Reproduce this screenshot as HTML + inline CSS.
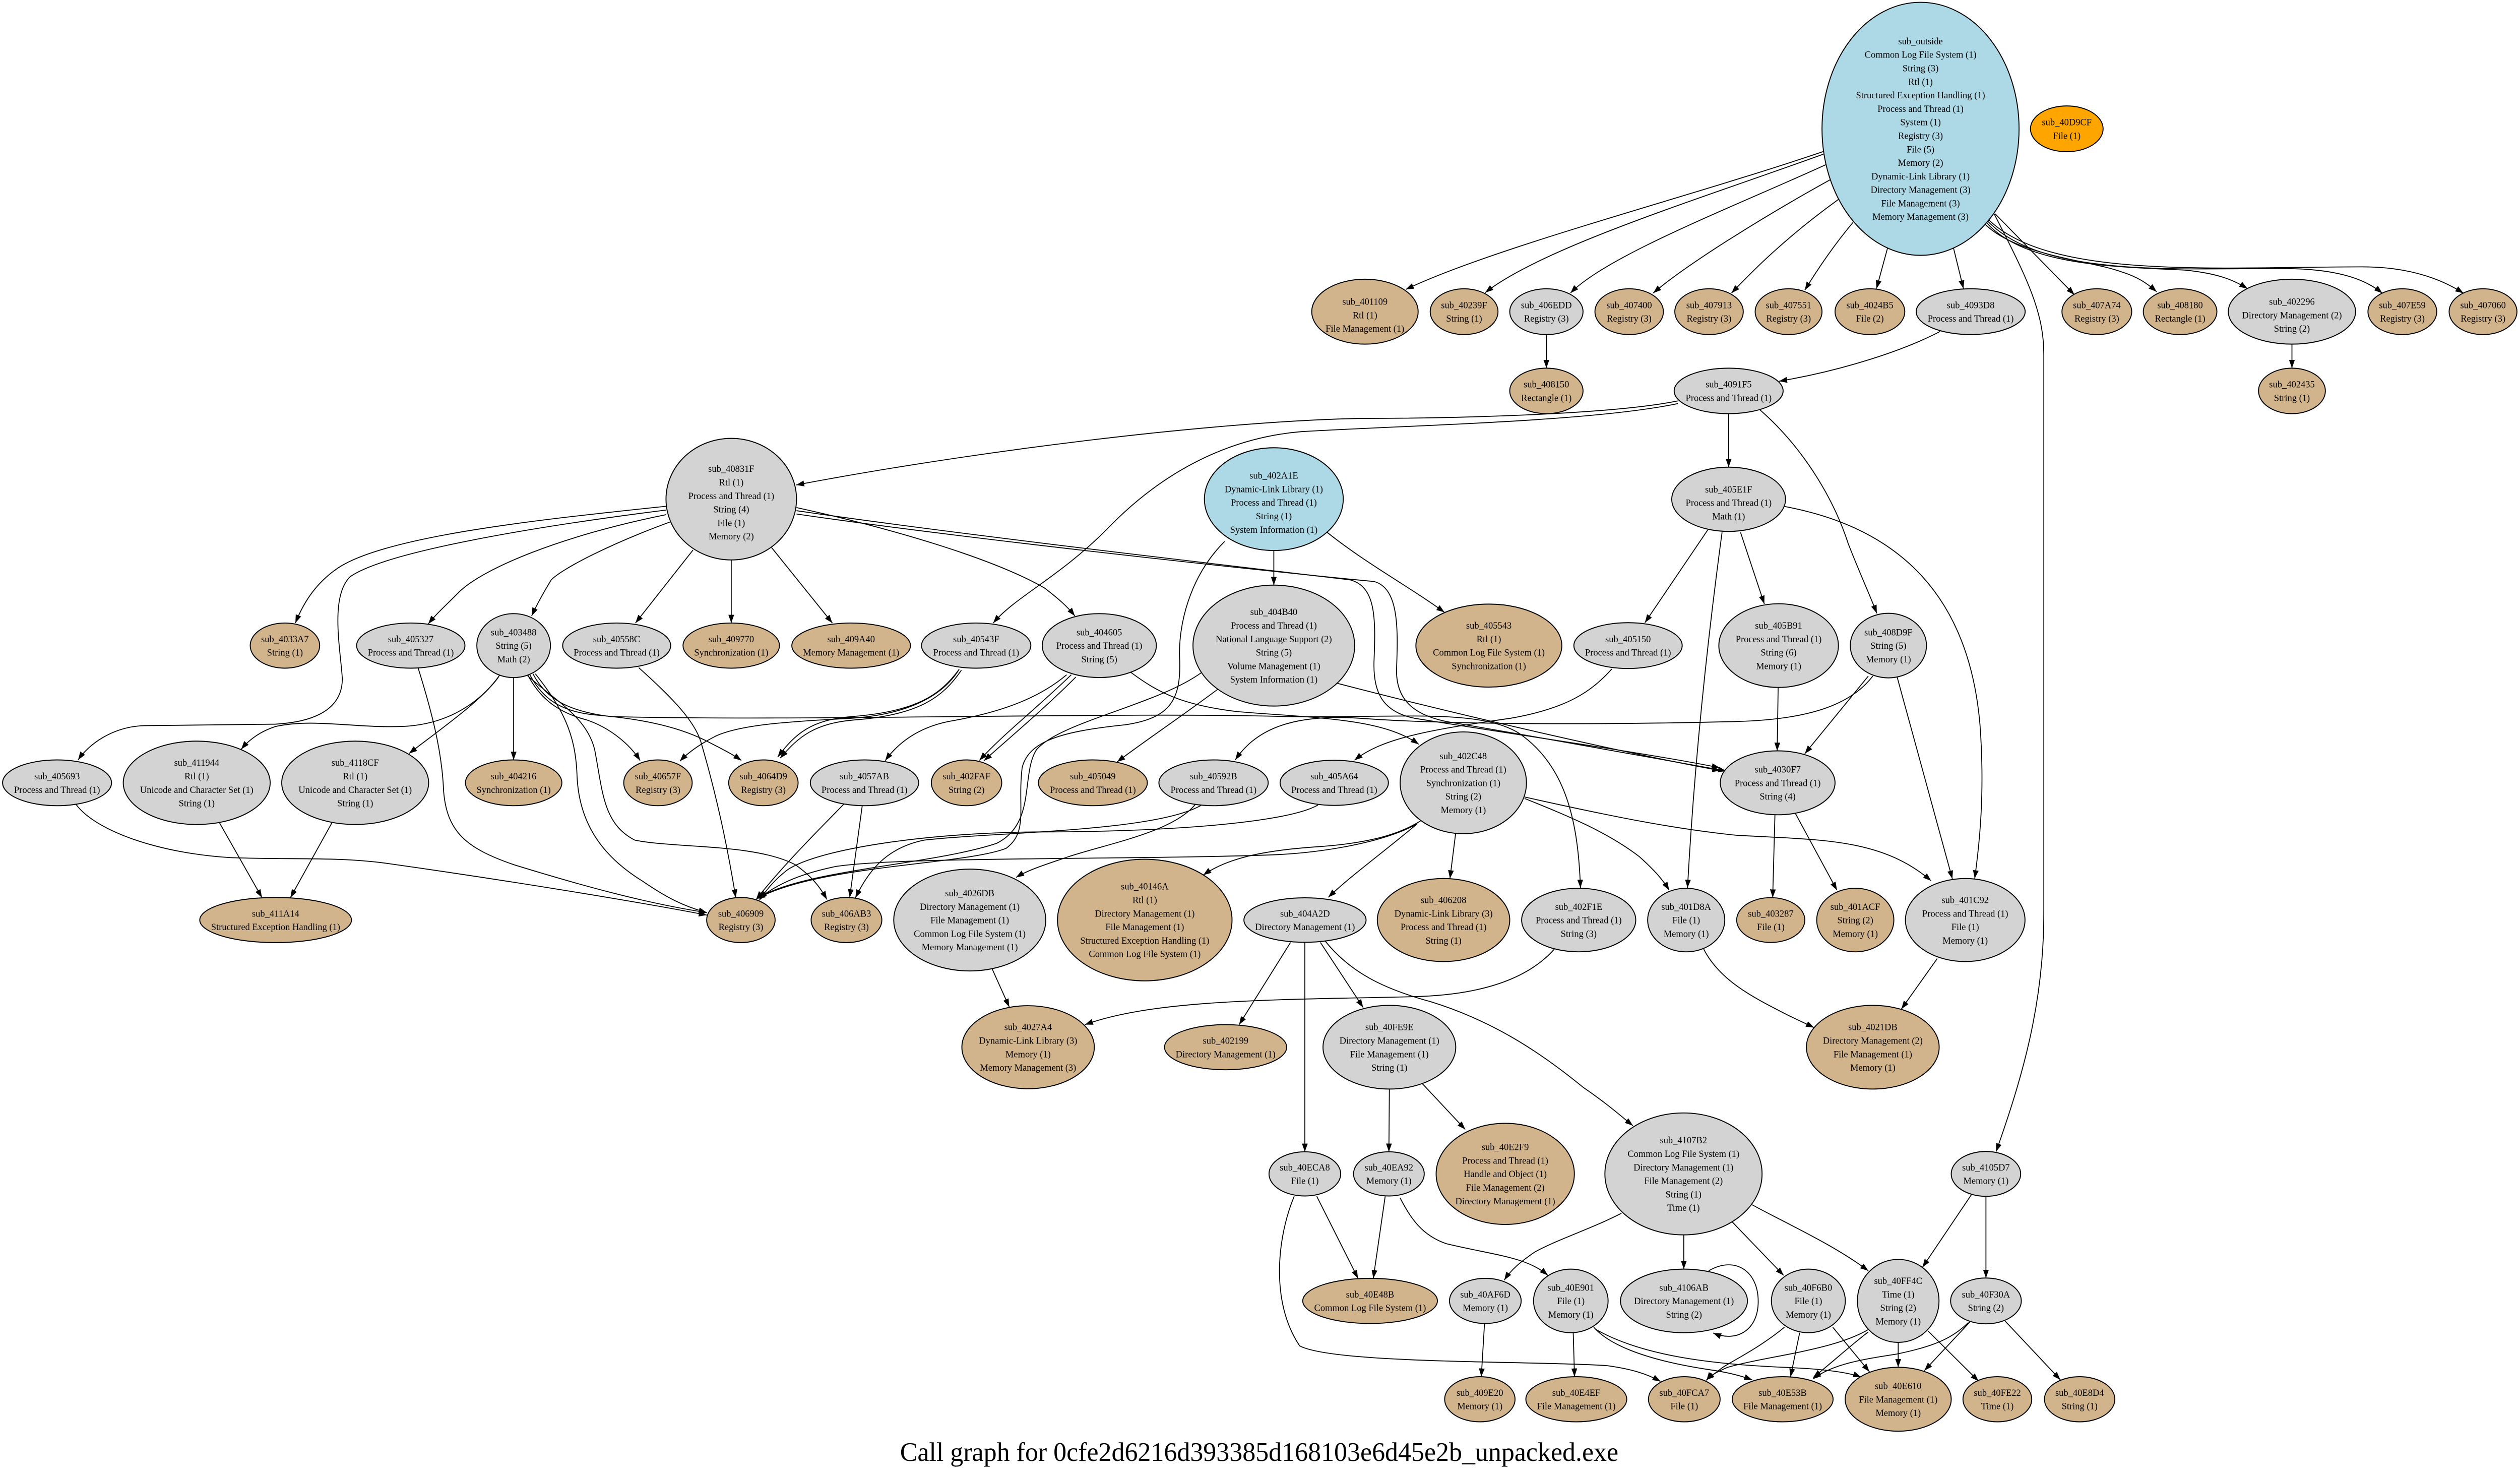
<!DOCTYPE html>
<html><head><meta charset="utf-8"><style>
html,body{margin:0;padding:0;background:#fff;overflow:hidden;width:100%;height:100%;}
svg{display:block;position:fixed;left:0;top:0;width:100vw;height:100vh;}
text{font-family:"Liberation Serif","DejaVu Serif",serif;font-size:5.8px;text-anchor:middle;fill:#000;}
.e path{fill:none;stroke:#000;stroke-width:0.55;}
ellipse{stroke:#000;stroke-width:0.6;}
.g{fill:#d3d3d3}.t{fill:#d2b48c}.b{fill:#add8e6}.o{fill:#ffa500}
</style></head><body>
<svg width="5124" height="2930" viewBox="0 0 1568 896.6" preserveAspectRatio="none" xmlns="http://www.w3.org/2000/svg">
<defs><marker id="a" markerUnits="userSpaceOnUse" markerWidth="6" markerHeight="4" refX="5" refY="1.8" orient="auto"><path d="M0,0 L5,1.8 L0,3.6 z" fill="#000"/></marker></defs>
<rect width="1568" height="896.6" fill="#fff"/>
<g class="e">
<path d="M1134.5,92 C1050,120 930,150 874.7,175.7" marker-end="url(#a)"/>
<path d="M1134.5,93.6 C1060,120 960,150 924.2,177.6" marker-end="url(#a)"/>
<path d="M1136,100 C1080,125 1000,155 977.2,177.9" marker-end="url(#a)"/>
<path d="M1139,109 C1100,130 1050,160 1028.7,177.9" marker-end="url(#a)"/>
<path d="M1144,121 C1110,145 1090,165 1077.4,177.9" marker-end="url(#a)"/>
<path d="M1153,135 C1140,150 1130,165 1123,176.1" marker-end="url(#a)"/>
<path d="M1174.5,150.5 L1167.6,175.2" marker-end="url(#a)"/>
<path d="M1215.5,150.5 L1221.7,175.2" marker-end="url(#a)"/>
<path d="M1241.4,129.8 L1290.7,178.9" marker-end="url(#a)"/>
<path d="M1235.4,136.3 C1255,155 1300,158 1320,165 C1330,168 1336,172 1341.9,177.1" marker-end="url(#a)"/>
<path d="M1236,135 C1260,162 1320,162 1360,164 C1380,166 1390,170 1398.4,175.2" marker-end="url(#a)"/>
<path d="M1236.5,134 C1270,168 1350,163 1420,163 C1450,163 1470,168 1482.3,178" marker-end="url(#a)"/>
<path d="M1237,133 C1275,170 1380,162 1470,162 C1500,162 1520,170 1532.8,178" marker-end="url(#a)"/>
<path d="M1240.8,129.8 C1262,170 1271.7,190 1271.7,215 L1271.7,555 C1271.7,610 1258,655 1242,699.1" marker-end="url(#a)"/>
<path d="M962.2,203.1 L962.2,223.5" marker-end="url(#a)"/>
<path d="M1426.1,208.9 L1426.1,223.5" marker-end="url(#a)"/>
<path d="M1207.2,201.2 C1180,215 1140,226 1107,231.4" marker-end="url(#a)"/>
<path d="M1075.6,251.1 L1075.6,283.6" marker-end="url(#a)"/>
<path d="M1095.2,248.9 C1120,270 1140,300 1150,330 C1158,350 1163,360 1167.8,372.3" marker-end="url(#a)"/>
<path d="M1043.9,243.4 C1000,252 900,254 846,254 C750,256 600,275 495.4,294.4" marker-end="url(#a)"/>
<path d="M1044,245 C990,256 880,258 810,262 C760,266 720,290 690,320 C660,350 632,362 618,378.2" marker-end="url(#a)"/>
<path d="M1062.6,321.7 L1023.5,378" marker-end="url(#a)"/>
<path d="M1071.5,323.2 C1065,370 1055,450 1050,539" marker-end="url(#a)"/>
<path d="M1083,323.2 L1097.8,366.6" marker-end="url(#a)"/>
<path d="M1110.1,307.4 C1180,320 1225,360 1232,440 C1235,480 1232,510 1228.7,533.3" marker-end="url(#a)"/>
<path d="M792.6,334.2 L792.6,355.2" marker-end="url(#a)"/>
<path d="M825.7,323.1 C850,342 875,355 898.8,371.7" marker-end="url(#a)"/>
<path d="M762,328.7 C740,350 733,380 734,400 C735,425 728,436 700,440 C660,444 640,450 636,466 C633,490 640,505 626,515 C600,525 510,525 471,545.5" marker-end="url(#a)"/>
<path d="M414.6,307.3 C340,315 240,325 210,345 C195,355 188,368 183.8,378.2" marker-end="url(#a)"/>
<path d="M414.6,309.6 C330,320 240,335 218,350 C205,362 212,395 213,412 C213,428 200,438 171.5,439.6 L90,440.5 C70,441 55,452 48.6,461.3" marker-end="url(#a)"/>
<path d="M414.6,312.4 C350,325 300,345 285,360 C278,367 272,372 266.5,378.7" marker-end="url(#a)"/>
<path d="M417.4,316.7 C380,330 350,345 343,352 C338,360 334,367 330.8,373.9" marker-end="url(#a)"/>
<path d="M431.2,333.9 L395.4,378.2" marker-end="url(#a)"/>
<path d="M455,339.9 L455,378.2" marker-end="url(#a)"/>
<path d="M480.1,332.4 L517.9,378.2" marker-end="url(#a)"/>
<path d="M495.6,308.1 C560,322 620,340 650,357 C658,363 664,368 668.8,373.9" marker-end="url(#a)"/>
<path d="M495.6,310 C600,325 780,345 840,352 C856,356 856,375 855,400 C854,420 860,432 880,436 C950,447 1030,458 1070.1,466.1" marker-end="url(#a)"/>
<path d="M495.6,312 C600,327 790,347 855,353 C870,357 870,380 869,405 C868,425 880,434 900,438 C960,448 1030,460 1074,468" marker-end="url(#a)"/>
<path d="M319.6,411.3 L319.6,461.3" marker-end="url(#a)"/>
<path d="M311.1,409.6 C300,425 280,440 250,441 C220,442 195,436 171.5,441 C162,444 155,449 150.1,454.8" marker-end="url(#a)"/>
<path d="M310.2,411 C300,425 275,442 254.5,457.4" marker-end="url(#a)"/>
<path d="M328.3,409.6 C335,422 345,432 365,437 C380,442 392,452 398.3,461.7" marker-end="url(#a)"/>
<path d="M329.7,409.6 C338,425 350,432 370,434 C395,436 420,440 440,450 C450,455 456,458 461.3,461.6" marker-end="url(#a)"/>
<path d="M333.1,409 C350,430 358,445 359,470 C360,500 375,520 400,535 C415,545 425,550 439.8,554" marker-end="url(#a)"/>
<path d="M328.3,410.2 C345,425 365,435 370,455 C375,480 375,500 395,510 C420,515 470,512 495,525 C505,532 510,538 514.5,546" marker-end="url(#a)"/>
<path d="M331.6,409 C340,425 355,432 380,435 C500,438 700,432 800,435 C870,436 920,430 945,445 C975,465 982,500 983.4,539" marker-end="url(#a)"/>
<path d="M397.4,405.3 C420,425 432,438 436,450 C445,480 452,510 457.8,544.9" marker-end="url(#a)"/>
<path d="M260.2,405.6 C268,430 275,455 276,480 C278,505 290,515 320,525 C360,537 400,548 439.8,554" marker-end="url(#a)"/>
<path d="M47.2,488.2 C60,505 100,518 143,520.6 C180,522 210,520 240,524 C320,535 400,548 439.8,555.5" marker-end="url(#a)"/>
<path d="M136.7,499.7 L163,544.9" marker-end="url(#a)"/>
<path d="M206.4,499.7 L180.7,544.9" marker-end="url(#a)"/>
<path d="M525,488.2 C505,508 485,528 470.5,546" marker-end="url(#a)"/>
<path d="M536.5,489.1 L528.7,544.8" marker-end="url(#a)"/>
<path d="M596.8,406.3 C585,422 570,432 530,435 C505,437 495,445 483.9,459.6" marker-end="url(#a)"/>
<path d="M598.2,406.8 C587,423 572,434 532,437 C507,439 497,447 485.5,460.2" marker-end="url(#a)"/>
<path d="M596.8,406.3 C585,425 560,434 530,436 C490,438 460,440 445,447 C435,452 428,457 423,462.1" marker-end="url(#a)"/>
<path d="M666.6,409.6 C645,430 625,445 609.4,461.6" marker-end="url(#a)"/>
<path d="M669.4,411 C650,430 628,448 612.2,461.8" marker-end="url(#a)"/>
<path d="M663.7,409.6 C645,425 620,433 590,438 C570,442 558,452 550.8,461.7" marker-end="url(#a)"/>
<path d="M703.7,408.2 C720,420 735,428 770,432 C820,436 860,436 882.8,451.8" marker-end="url(#a)"/>
<path d="M758,418.2 C735,435 712,450 695.1,462.5" marker-end="url(#a)"/>
<path d="M831.3,414.6 C900,432 1000,455 1070.4,467.8" marker-end="url(#a)"/>
<path d="M748,408 C720,428 660,438 645,455 C635,470 645,500 620,512 C580,525 500,528 472,545" marker-end="url(#a)"/>
<path d="M1002.9,406.1 C990,420 975,430 940,436 C890,443 860,448 842.8,461.5" marker-end="url(#a)"/>
<path d="M1162.5,410.4 L1123,457.5" marker-end="url(#a)"/>
<path d="M1180.5,411.2 L1214.8,533.5" marker-end="url(#a)"/>
<path d="M1165.3,410.4 C1150,430 1120,437 1080,438 C1000,440 900,440 846,436 C800,433 780,445 768.6,461.3" marker-end="url(#a)"/>
<path d="M1106.4,417.3 L1105.8,455.8" marker-end="url(#a)"/>
<path d="M881.4,500.4 C860,518 840,532 826.5,544.7" marker-end="url(#a)"/>
<path d="M905.7,506.1 L902.2,533.3" marker-end="url(#a)"/>
<path d="M948.6,484.7 C975,495 1000,505 1020,520 C1028,527 1034,533 1038.6,540.4" marker-end="url(#a)"/>
<path d="M948.6,483.8 C1000,495 1040,503 1080,507 C1130,510 1170,508 1201.6,534.7" marker-end="url(#a)"/>
<path d="M884.2,498.1 C870,507 850,512 820,514 C790,516 765,520 748.7,531.2" marker-end="url(#a)"/>
<path d="M882,500 C860,512 820,518 790,519 C700,522 560,520 520,526 C495,531 482,538 472,545.5" marker-end="url(#a)"/>
<path d="M1104.4,494.7 L1103,544.9" marker-end="url(#a)"/>
<path d="M1117.2,493.9 L1143,540.4" marker-end="url(#a)"/>
<path d="M743.8,488.2 C730,505 690,512 665,520 C650,525 640,528 632.2,532.6" marker-end="url(#a)"/>
<path d="M748,488.5 C720,505 620,505 575,510 C550,515 540,530 532.2,545" marker-end="url(#a)"/>
<path d="M820,488.7 C800,500 720,505 650,505 C580,505 510,515 490,528 C482,534 477,540 472.5,546.5" marker-end="url(#a)"/>
<path d="M1060.1,576.2 C1070,595 1090,605 1110,615 C1118,619 1123,621 1128.7,623.8" marker-end="url(#a)"/>
<path d="M1205.4,581.9 L1183.1,612.5" marker-end="url(#a)"/>
<path d="M967.1,576.2 C950,595 920,604 880,605 C800,607 720,606 675.1,622" marker-end="url(#a)"/>
<path d="M617.4,588.3 L628,611.3" marker-end="url(#a)"/>
<path d="M803,572.1 L771,622" marker-end="url(#a)"/>
<path d="M811.9,572 L811.9,699.2" marker-end="url(#a)"/>
<path d="M821.6,572.1 L848.2,611.6" marker-end="url(#a)"/>
<path d="M824.5,571.2 C840,590 860,600 890,608 C930,620 960,640 985,660 C1000,670 1008,677 1016,683.3" marker-end="url(#a)"/>
<path d="M864.5,661.1 L864.2,699.2" marker-end="url(#a)"/>
<path d="M885.1,657.9 L911.7,685.6" marker-end="url(#a)"/>
<path d="M819.3,726.2 L845,776" marker-end="url(#a)"/>
<path d="M805.3,726.2 C795,750 790,790 808.7,817 C830,828 950,826 1000,829 C1015,831 1025,834 1033.2,838.6" marker-end="url(#a)"/>
<path d="M861.9,726.2 L854.5,776" marker-end="url(#a)"/>
<path d="M871.1,727.1 C878,740 885,750 900,755 C930,762 950,763 963.1,774.2" marker-end="url(#a)"/>
<path d="M1008.9,736.5 C990,746 970,752 955,760 C946,766 940,771 936,777.1" marker-end="url(#a)"/>
<path d="M1047.7,749.6 L1047.7,770.4" marker-end="url(#a)"/>
<path d="M1077.5,741.4 L1109.8,774.2" marker-end="url(#a)"/>
<path d="M1090.3,731.4 C1110,742 1140,755 1162.5,771.4" marker-end="url(#a)"/>
<path d="M1063.2,771.4 C1080,762 1094,772 1094,790 C1094,808 1080,815 1066,809.2" marker-end="url(#a)"/>
<path d="M923.7,803.4 L921.7,835.7" marker-end="url(#a)"/>
<path d="M978.9,809 L979.7,835.7" marker-end="url(#a)"/>
<path d="M991.7,805.7 C1000,815 1020,825 1063.2,831.4 C1075,833 1083,835 1090.3,837.7" marker-end="url(#a)"/>
<path d="M993.1,807.1 C1020,822 1060,828 1110,830 C1135,831 1150,833 1158,836" marker-end="url(#a)"/>
<path d="M1110.3,805.7 C1095,818 1080,825 1072,830 C1068,833 1065,835 1061.8,837.7" marker-end="url(#a)"/>
<path d="M1119.8,809 L1114.1,835.8" marker-end="url(#a)"/>
<path d="M1140.4,805.7 L1163.2,832.7" marker-end="url(#a)"/>
<path d="M1181.1,814.9 L1181.1,830" marker-end="url(#a)"/>
<path d="M1199.7,808 L1231.1,838.4" marker-end="url(#a)"/>
<path d="M1162.5,807.1 C1140,820 1100,823 1075,830 C1068,833 1064,835 1061.8,838" marker-end="url(#a)"/>
<path d="M1162.5,808.5 C1150,818 1140,827 1128.2,836.2" marker-end="url(#a)"/>
<path d="M1247.7,802 L1282,837.6" marker-end="url(#a)"/>
<path d="M1226,802.2 L1197.4,832" marker-end="url(#a)"/>
<path d="M1224.8,802.8 C1215,812 1205,817 1180,822 C1160,825 1140,828 1128.2,837.1" marker-end="url(#a)"/>
<path d="M1226.8,725 L1196.2,769.3" marker-end="url(#a)"/>
<path d="M1235.7,726.2 L1235.7,775.8" marker-end="url(#a)"/>
</g>

<ellipse class="b" cx="1195" cy="78.2" rx="61.3" ry="76.8"/>
<text x="1195" y="26.9">sub_outside<tspan x="1195" dy="8.2">Common Log File System (1)</tspan><tspan x="1195" dy="8.2">String (3)</tspan><tspan x="1195" dy="8.2">Rtl (1)</tspan><tspan x="1195" dy="8.2">Structured Exception Handling (1)</tspan><tspan x="1195" dy="8.2">Process and Thread (1)</tspan><tspan x="1195" dy="8.2">System (1)</tspan><tspan x="1195" dy="8.2">Registry (3)</tspan><tspan x="1195" dy="8.2">File (5)</tspan><tspan x="1195" dy="8.2">Memory (2)</tspan><tspan x="1195" dy="8.2">Dynamic-Link Library (1)</tspan><tspan x="1195" dy="8.2">Directory Management (3)</tspan><tspan x="1195" dy="8.2">File Management (3)</tspan><tspan x="1195" dy="8.2">Memory Management (3)</tspan></text>

<ellipse class="o" cx="1286" cy="78.2" rx="22.6" ry="13.9"/>
<text x="1286" y="76.1">sub_40D9CF<tspan x="1286" dy="8.2">File (1)</tspan></text>

<ellipse class="t" cx="849.3" cy="189.2" rx="33.1" ry="19.7"/>
<text x="849.3" y="185">sub_401109<tspan x="849.3" dy="8.2">Rtl (1)</tspan><tspan x="849.3" dy="8.2">File Management (1)</tspan></text>
<ellipse class="t" cx="911" cy="189.2" rx="21.1" ry="13.9"/>
<text x="911" y="187.1">sub_40239F<tspan x="911" dy="8.2">String (1)</tspan></text>
<ellipse class="g" cx="962.2" cy="189.2" rx="22.8" ry="13.9"/>
<text x="962.2" y="187.1">sub_406EDD<tspan x="962.2" dy="8.2">Registry (3)</tspan></text>
<ellipse class="t" cx="1013.7" cy="189.2" rx="21.3" ry="13.9"/>
<text x="1013.7" y="187.1">sub_407400<tspan x="1013.7" dy="8.2">Registry (3)</tspan></text>
<ellipse class="t" cx="1063.4" cy="189.2" rx="21.3" ry="13.9"/>
<text x="1063.4" y="187.1">sub_407913<tspan x="1063.4" dy="8.2">Registry (3)</tspan></text>
<ellipse class="t" cx="1112.9" cy="189.2" rx="20.8" ry="13.9"/>
<text x="1112.9" y="187.1">sub_407551<tspan x="1112.9" dy="8.2">Registry (3)</tspan></text>
<ellipse class="t" cx="1163.5" cy="189.2" rx="21.7" ry="13.9"/>
<text x="1163.5" y="187.1">sub_4024B5<tspan x="1163.5" dy="8.2">File (2)</tspan></text>
<ellipse class="g" cx="1226.2" cy="189.2" rx="33.9" ry="13.9"/>
<text x="1226.2" y="187.1">sub_4093D8<tspan x="1226.2" dy="8.2">Process and Thread (1)</tspan></text>
<ellipse class="t" cx="1304.7" cy="189.2" rx="21.7" ry="13.9"/>
<text x="1304.7" y="187.1">sub_407A74<tspan x="1304.7" dy="8.2">Registry (3)</tspan></text>
<ellipse class="t" cx="1356.5" cy="189.2" rx="22.9" ry="13.9"/>
<text x="1356.5" y="187.1">sub_408180<tspan x="1356.5" dy="8.2">Rectangle (1)</tspan></text>
<ellipse class="g" cx="1426.1" cy="189.2" rx="39.6" ry="19.7"/>
<text x="1426.1" y="185">sub_402296<tspan x="1426.1" dy="8.2">Directory Management (2)</tspan><tspan x="1426.1" dy="8.2">String (2)</tspan></text>
<ellipse class="t" cx="1494.8" cy="189.2" rx="21.4" ry="13.9"/>
<text x="1494.8" y="187.1">sub_407E59<tspan x="1494.8" dy="8.2">Registry (3)</tspan></text>
<ellipse class="t" cx="1545" cy="189.2" rx="21.1" ry="13.9"/>
<text x="1545" y="187.1">sub_407060<tspan x="1545" dy="8.2">Registry (3)</tspan></text>

<ellipse class="t" cx="962.2" cy="237.3" rx="22.8" ry="13.8"/>
<text x="962.2" y="235.2">sub_408150<tspan x="962.2" dy="8.2">Rectangle (1)</tspan></text>
<ellipse class="g" cx="1075.6" cy="237.3" rx="33.9" ry="13.8"/>
<text x="1075.6" y="235.2">sub_4091F5<tspan x="1075.6" dy="8.2">Process and Thread (1)</tspan></text>
<ellipse class="t" cx="1426.1" cy="237.3" rx="20.8" ry="13.8"/>
<text x="1426.1" y="235.2">sub_402435<tspan x="1426.1" dy="8.2">String (1)</tspan></text>

<ellipse class="g" cx="455" cy="303" rx="40.6" ry="36.9"/>
<text x="455" y="286.5">sub_40831F<tspan x="455" dy="8.2">Rtl (1)</tspan><tspan x="455" dy="8.2">Process and Thread (1)</tspan><tspan x="455" dy="8.2">String (4)</tspan><tspan x="455" dy="8.2">File (1)</tspan><tspan x="455" dy="8.2">Memory (2)</tspan></text>
<ellipse class="b" cx="792.6" cy="303" rx="43.2" ry="31.2"/>
<text x="792.6" y="290.6">sub_402A1E<tspan x="792.6" dy="8.2">Dynamic-Link Library (1)</tspan><tspan x="792.6" dy="8.2">Process and Thread (1)</tspan><tspan x="792.6" dy="8.2">String (1)</tspan><tspan x="792.6" dy="8.2">System Information (1)</tspan></text>
<ellipse class="g" cx="1075.6" cy="303.1" rx="35.4" ry="19.5"/>
<text x="1075.6" y="298.9">sub_405E1F<tspan x="1075.6" dy="8.2">Process and Thread (1)</tspan><tspan x="1075.6" dy="8.2">Math (1)</tspan></text>

<ellipse class="t" cx="177.3" cy="391.9" rx="21.6" ry="13.7"/>
<text x="177.3" y="389.8">sub_4033A7<tspan x="177.3" dy="8.2">String (1)</tspan></text>
<ellipse class="g" cx="255.6" cy="391.9" rx="33.7" ry="13.7"/>
<text x="255.6" y="389.8">sub_405327<tspan x="255.6" dy="8.2">Process and Thread (1)</tspan></text>
<ellipse class="g" cx="319.6" cy="391.9" rx="22.9" ry="19.4"/>
<text x="319.6" y="385.7">sub_403488<tspan x="319.6" dy="8.2">String (5)</tspan><tspan x="319.6" dy="8.2">Math (2)</tspan></text>
<ellipse class="g" cx="383.7" cy="391.9" rx="33.6" ry="13.7"/>
<text x="383.7" y="389.8">sub_40558C<tspan x="383.7" dy="8.2">Process and Thread (1)</tspan></text>
<ellipse class="t" cx="455" cy="391.9" rx="30" ry="13.7"/>
<text x="455" y="389.8">sub_409770<tspan x="455" dy="8.2">Synchronization (1)</tspan></text>
<ellipse class="t" cx="529.6" cy="391.9" rx="36.9" ry="13.7"/>
<text x="529.6" y="389.8">sub_409A40<tspan x="529.6" dy="8.2">Memory Management (1)</tspan></text>
<ellipse class="g" cx="607.4" cy="391.9" rx="34" ry="13.7"/>
<text x="607.4" y="389.8">sub_40543F<tspan x="607.4" dy="8.2">Process and Thread (1)</tspan></text>
<ellipse class="g" cx="684" cy="391.9" rx="35.5" ry="19.4"/>
<text x="684" y="385.7">sub_404605<tspan x="684" dy="8.2">Process and Thread (1)</tspan><tspan x="684" dy="8.2">String (5)</tspan></text>
<ellipse class="g" cx="792.6" cy="391.9" rx="50.3" ry="36.7"/>
<text x="792.6" y="373.4">sub_404B40<tspan x="792.6" dy="8.2">Process and Thread (1)</tspan><tspan x="792.6" dy="8.2">National Language Support (2)</tspan><tspan x="792.6" dy="8.2">String (5)</tspan><tspan x="792.6" dy="8.2">Volume Management (1)</tspan><tspan x="792.6" dy="8.2">System Information (1)</tspan></text>
<ellipse class="t" cx="926.4" cy="391.9" rx="45.4" ry="25.2"/>
<text x="926.4" y="381.6">sub_405543<tspan x="926.4" dy="8.2">Rtl (1)</tspan><tspan x="926.4" dy="8.2">Common Log File System (1)</tspan><tspan x="926.4" dy="8.2">Synchronization (1)</tspan></text>
<ellipse class="g" cx="1013" cy="391.9" rx="33.7" ry="13.9"/>
<text x="1013" y="389.8">sub_405150<tspan x="1013" dy="8.2">Process and Thread (1)</tspan></text>
<ellipse class="g" cx="1106.7" cy="391.9" rx="37.2" ry="25.4"/>
<text x="1106.7" y="381.6">sub_405B91<tspan x="1106.7" dy="8.2">Process and Thread (1)</tspan><tspan x="1106.7" dy="8.2">String (6)</tspan><tspan x="1106.7" dy="8.2">Memory (1)</tspan></text>
<ellipse class="g" cx="1175" cy="391.9" rx="23.7" ry="19.6"/>
<text x="1175" y="385.7">sub_408D9F<tspan x="1175" dy="8.2">String (5)</tspan><tspan x="1175" dy="8.2">Memory (1)</tspan></text>

<ellipse class="g" cx="35.5" cy="475.2" rx="33.9" ry="13.9"/>
<text x="35.5" y="473.1">sub_405693<tspan x="35.5" dy="8.2">Process and Thread (1)</tspan></text>
<ellipse class="g" cx="122.4" cy="475.2" rx="45.7" ry="25.3"/>
<text x="122.4" y="464.9">sub_411944<tspan x="122.4" dy="8.2">Rtl (1)</tspan><tspan x="122.4" dy="8.2">Unicode and Character Set (1)</tspan><tspan x="122.4" dy="8.2">String (1)</tspan></text>
<ellipse class="g" cx="221" cy="475.2" rx="45.7" ry="25.3"/>
<text x="221" y="464.9">sub_4118CF<tspan x="221" dy="8.2">Rtl (1)</tspan><tspan x="221" dy="8.2">Unicode and Character Set (1)</tspan><tspan x="221" dy="8.2">String (1)</tspan></text>
<ellipse class="t" cx="319.6" cy="475.2" rx="30" ry="13.9"/>
<text x="319.6" y="473.1">sub_404216<tspan x="319.6" dy="8.2">Synchronization (1)</tspan></text>
<ellipse class="t" cx="409.4" cy="475.2" rx="21.3" ry="13.9"/>
<text x="409.4" y="473.1">sub_40657F<tspan x="409.4" dy="8.2">Registry (3)</tspan></text>
<ellipse class="t" cx="475" cy="475.2" rx="21.6" ry="13.9"/>
<text x="475" y="473.1">sub_4064D9<tspan x="475" dy="8.2">Registry (3)</tspan></text>
<ellipse class="g" cx="537.9" cy="475.2" rx="33.7" ry="13.9"/>
<text x="537.9" y="473.1">sub_4057AB<tspan x="537.9" dy="8.2">Process and Thread (1)</tspan></text>
<ellipse class="t" cx="601.4" cy="475.2" rx="21.9" ry="13.9"/>
<text x="601.4" y="473.1">sub_402FAF<tspan x="601.4" dy="8.2">String (2)</tspan></text>
<ellipse class="t" cx="680" cy="475.2" rx="33.9" ry="13.9"/>
<text x="680" y="473.1">sub_405049<tspan x="680" dy="8.2">Process and Thread (1)</tspan></text>
<ellipse class="g" cx="755.1" cy="475.2" rx="34" ry="13.9"/>
<text x="755.1" y="473.1">sub_40592B<tspan x="755.1" dy="8.2">Process and Thread (1)</tspan></text>
<ellipse class="g" cx="830.2" cy="475.2" rx="33.7" ry="13.7"/>
<text x="830.2" y="473.1">sub_405A64<tspan x="830.2" dy="8.2">Process and Thread (1)</tspan></text>
<ellipse class="g" cx="910.5" cy="475.2" rx="39.3" ry="30.9"/>
<text x="910.5" y="460.8">sub_402C48<tspan x="910.5" dy="8.2">Process and Thread (1)</tspan><tspan x="910.5" dy="8.2">Synchronization (1)</tspan><tspan x="910.5" dy="8.2">String (2)</tspan><tspan x="910.5" dy="8.2">Memory (1)</tspan></text>
<ellipse class="g" cx="1106.1" cy="475.2" rx="35.7" ry="19.4"/>
<text x="1106.1" y="469">sub_4030F7<tspan x="1106.1" dy="8.2">Process and Thread (1)</tspan><tspan x="1106.1" dy="8.2">String (4)</tspan></text>

<ellipse class="t" cx="171.5" cy="558.5" rx="47.2" ry="13.7"/>
<text x="171.5" y="556.4">sub_411A14<tspan x="171.5" dy="8.2">Structured Exception Handling (1)</tspan></text>
<ellipse class="t" cx="461" cy="558.5" rx="21.3" ry="13.7"/>
<text x="461" y="556.4">sub_406909<tspan x="461" dy="8.2">Registry (3)</tspan></text>
<ellipse class="t" cx="526.7" cy="558.5" rx="22" ry="13.7"/>
<text x="526.7" y="556.4">sub_406AB3<tspan x="526.7" dy="8.2">Registry (3)</tspan></text>
<ellipse class="g" cx="603.4" cy="558.5" rx="47.3" ry="30.9"/>
<text x="603.4" y="544.1">sub_4026DB<tspan x="603.4" dy="8.2">Directory Management (1)</tspan><tspan x="603.4" dy="8.2">File Management (1)</tspan><tspan x="603.4" dy="8.2">Common Log File System (1)</tspan><tspan x="603.4" dy="8.2">Memory Management (1)</tspan></text>
<ellipse class="t" cx="712.3" cy="558.5" rx="54.3" ry="36.9"/>
<text x="712.3" y="540">sub_40146A<tspan x="712.3" dy="8.2">Rtl (1)</tspan><tspan x="712.3" dy="8.2">Directory Management (1)</tspan><tspan x="712.3" dy="8.2">File Management (1)</tspan><tspan x="712.3" dy="8.2">Structured Exception Handling (1)</tspan><tspan x="712.3" dy="8.2">Common Log File System (1)</tspan></text>
<ellipse class="g" cx="812" cy="558.5" rx="38" ry="13.5"/>
<text x="812" y="556.4">sub_404A2D<tspan x="812" dy="8.2">Directory Management (1)</tspan></text>
<ellipse class="t" cx="898.2" cy="558.5" rx="41.2" ry="25.2"/>
<text x="898.2" y="548.2">sub_406208<tspan x="898.2" dy="8.2">Dynamic-Link Library (3)</tspan><tspan x="898.2" dy="8.2">Process and Thread (1)</tspan><tspan x="898.2" dy="8.2">String (1)</tspan></text>
<ellipse class="g" cx="982.3" cy="558.5" rx="35.5" ry="19.3"/>
<text x="982.3" y="552.3">sub_402F1E<tspan x="982.3" dy="8.2">Process and Thread (1)</tspan><tspan x="982.3" dy="8.2">String (3)</tspan></text>
<ellipse class="g" cx="1049.2" cy="558.5" rx="24" ry="19.3"/>
<text x="1049.2" y="552.3">sub_401D8A<tspan x="1049.2" dy="8.2">File (1)</tspan><tspan x="1049.2" dy="8.2">Memory (1)</tspan></text>
<ellipse class="t" cx="1101.8" cy="558.5" rx="21.2" ry="13.6"/>
<text x="1101.8" y="556.4">sub_403287<tspan x="1101.8" dy="8.2">File (1)</tspan></text>
<ellipse class="t" cx="1154.4" cy="558.5" rx="24" ry="19.3"/>
<text x="1154.4" y="552.3">sub_401ACF<tspan x="1154.4" dy="8.2">String (2)</tspan><tspan x="1154.4" dy="8.2">Memory (1)</tspan></text>
<ellipse class="g" cx="1222.8" cy="558.5" rx="37.2" ry="25.2"/>
<text x="1222.8" y="548.2">sub_401C92<tspan x="1222.8" dy="8.2">Process and Thread (1)</tspan><tspan x="1222.8" dy="8.2">File (1)</tspan><tspan x="1222.8" dy="8.2">Memory (1)</tspan></text>

<ellipse class="t" cx="639.7" cy="635.7" rx="41.2" ry="25.2"/>
<text x="639.7" y="625.4">sub_4027A4<tspan x="639.7" dy="8.2">Dynamic-Link Library (3)</tspan><tspan x="639.7" dy="8.2">Memory (1)</tspan><tspan x="639.7" dy="8.2">Memory Management (3)</tspan></text>
<ellipse class="t" cx="762.6" cy="635.7" rx="38" ry="13.7"/>
<text x="762.6" y="633.6">sub_402199<tspan x="762.6" dy="8.2">Directory Management (1)</tspan></text>
<ellipse class="g" cx="864.5" cy="635.7" rx="41.3" ry="25.4"/>
<text x="864.5" y="625.4">sub_40FE9E<tspan x="864.5" dy="8.2">Directory Management (1)</tspan><tspan x="864.5" dy="8.2">File Management (1)</tspan><tspan x="864.5" dy="8.2">String (1)</tspan></text>
<ellipse class="t" cx="1165.3" cy="635.7" rx="41.3" ry="25.4"/>
<text x="1165.3" y="625.4">sub_4021DB<tspan x="1165.3" dy="8.2">Directory Management (2)</tspan><tspan x="1165.3" dy="8.2">File Management (1)</tspan><tspan x="1165.3" dy="8.2">Memory (1)</tspan></text>

<ellipse class="g" cx="811.9" cy="712.6" rx="22.3" ry="13.4"/>
<text x="811.9" y="710.5">sub_40ECA8<tspan x="811.9" dy="8.2">File (1)</tspan></text>
<ellipse class="g" cx="864.2" cy="712.6" rx="22" ry="13.4"/>
<text x="864.2" y="710.5">sub_40EA92<tspan x="864.2" dy="8.2">Memory (1)</tspan></text>
<ellipse class="t" cx="936.6" cy="712.6" rx="43" ry="30.7"/>
<text x="936.6" y="698.2">sub_40E2F9<tspan x="936.6" dy="8.2">Process and Thread (1)</tspan><tspan x="936.6" dy="8.2">Handle and Object (1)</tspan><tspan x="936.6" dy="8.2">File Management (2)</tspan><tspan x="936.6" dy="8.2">Directory Management (1)</tspan></text>
<ellipse class="g" cx="1047.5" cy="712.6" rx="48.9" ry="37"/>
<text x="1047.5" y="694.1">sub_4107B2<tspan x="1047.5" dy="8.2">Common Log File System (1)</tspan><tspan x="1047.5" dy="8.2">Directory Management (1)</tspan><tspan x="1047.5" dy="8.2">File Management (2)</tspan><tspan x="1047.5" dy="8.2">String (1)</tspan><tspan x="1047.5" dy="8.2">Time (1)</tspan></text>
<ellipse class="g" cx="1235.7" cy="712.6" rx="21.6" ry="13.6"/>
<text x="1235.7" y="710.5">sub_4105D7<tspan x="1235.7" dy="8.2">Memory (1)</tspan></text>

<ellipse class="t" cx="852.5" cy="789.7" rx="41.9" ry="13.7"/>
<text x="852.5" y="787.6">sub_40E48B<tspan x="852.5" dy="8.2">Common Log File System (1)</tspan></text>
<ellipse class="g" cx="924.2" cy="789.7" rx="22.3" ry="13.7"/>
<text x="924.2" y="787.6">sub_40AF6D<tspan x="924.2" dy="8.2">Memory (1)</tspan></text>
<ellipse class="g" cx="977.4" cy="789.7" rx="23.2" ry="19.3"/>
<text x="977.4" y="783.5">sub_40E901<tspan x="977.4" dy="8.2">File (1)</tspan><tspan x="977.4" dy="8.2">Memory (1)</tspan></text>
<ellipse class="g" cx="1047.8" cy="789.7" rx="39.5" ry="19.3"/>
<text x="1047.8" y="783.5">sub_4106AB<tspan x="1047.8" dy="8.2">Directory Management (1)</tspan><tspan x="1047.8" dy="8.2">String (2)</tspan></text>
<ellipse class="g" cx="1125.2" cy="789.7" rx="23" ry="19.3"/>
<text x="1125.2" y="783.5">sub_40F6B0<tspan x="1125.2" dy="8.2">File (1)</tspan><tspan x="1125.2" dy="8.2">Memory (1)</tspan></text>
<ellipse class="g" cx="1181.1" cy="789.7" rx="25.4" ry="25.2"/>
<text x="1181.1" y="779.4">sub_40FF4C<tspan x="1181.1" dy="8.2">Time (1)</tspan><tspan x="1181.1" dy="8.2">String (2)</tspan><tspan x="1181.1" dy="8.2">Memory (1)</tspan></text>
<ellipse class="g" cx="1235.7" cy="789.7" rx="22" ry="13.9"/>
<text x="1235.7" y="787.6">sub_40F30A<tspan x="1235.7" dy="8.2">String (2)</tspan></text>

<ellipse class="t" cx="920.8" cy="849.4" rx="21.9" ry="13.7"/>
<text x="920.8" y="847.3">sub_409E20<tspan x="920.8" dy="8.2">Memory (1)</tspan></text>
<ellipse class="t" cx="980.8" cy="849.4" rx="31.4" ry="13.7"/>
<text x="980.8" y="847.3">sub_40E4EF<tspan x="980.8" dy="8.2">File Management (1)</tspan></text>
<ellipse class="t" cx="1048" cy="849.4" rx="22.3" ry="13.7"/>
<text x="1048" y="847.3">sub_40FCA7<tspan x="1048" dy="8.2">File (1)</tspan></text>
<ellipse class="t" cx="1109.2" cy="849.4" rx="31.4" ry="13.7"/>
<text x="1109.2" y="847.3">sub_40E53B<tspan x="1109.2" dy="8.2">File Management (1)</tspan></text>
<ellipse class="t" cx="1181.1" cy="849.4" rx="33" ry="19.4"/>
<text x="1181.1" y="843.2">sub_40E610<tspan x="1181.1" dy="8.2">File Management (1)</tspan><tspan x="1181.1" dy="8.2">Memory (1)</tspan></text>
<ellipse class="t" cx="1242.8" cy="849.4" rx="21.4" ry="13.7"/>
<text x="1242.8" y="847.3">sub_40FE22<tspan x="1242.8" dy="8.2">Time (1)</tspan></text>
<ellipse class="t" cx="1294" cy="849.4" rx="21.9" ry="13.7"/>
<text x="1294" y="847.3">sub_40E8D4<tspan x="1294" dy="8.2">String (1)</tspan></text>

<text x="783.5" y="886.8" style="font-size:16.3px" textLength="447" lengthAdjust="spacingAndGlyphs">Call graph for 0cfe2d6216d393385d168103e6d45e2b_unpacked.exe</text>
</svg>
</body></html>
